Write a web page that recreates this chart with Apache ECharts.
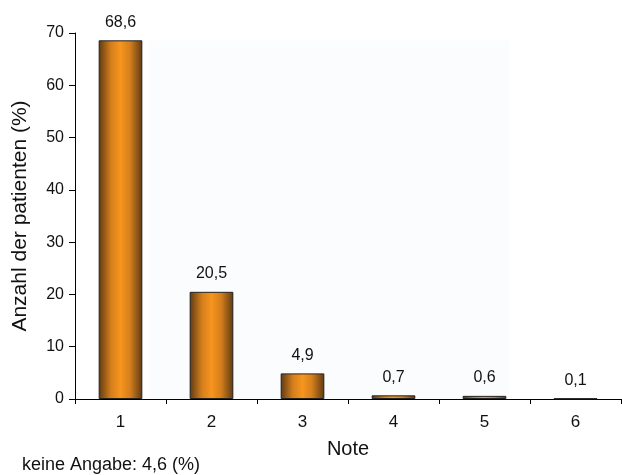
<!DOCTYPE html>
<html><head><meta charset="utf-8">
<script src="https://cdn.jsdelivr.net/npm/echarts@6/dist/echarts.min.js"></script>
<style>html,body{margin:0;padding:0;background:#fff}#c{width:622px;height:475px}</style>
</head><body><div id="c"></div>
<script>
const categories = ['1','2','3','4','5','6'];
const values = [68.6, 20.5, 4.9, 0.7, 0.6, 0.1];
const valueLabels = ['68,6','20,5','4,9','0,7','0,6','0,1'];
const yTicks = [0,10,20,30,40,50,60,70];
const footnote = 'keine Angabe: 4,6 (%)';

const FONT = 'Liberation Sans, Arial, sans-serif';
const chart = echarts.init(document.getElementById('c'));
const grad = new echarts.graphic.LinearGradient(0,0,1,0,[
  {offset:0,color:'#5e3a14'},
  {offset:0.28,color:'#d47e1c'},
  {offset:0.5,color:'#f7951e'},
  {offset:0.72,color:'#d47e1c'},
  {offset:1,color:'#5e3a14'}
]);
chart.setOption({
  animation:false,
  textStyle:{fontFamily:FONT},
  grid:{left:75,right:1,top:33,bottom:76,containLabel:false},
  xAxis:{
    type:'category', data:categories,
    name:'Note', nameLocation:'middle', nameGap:40,
    nameTextStyle:{fontSize:20,color:'#111'},
    axisLine:{lineStyle:{color:'#000',width:1}},
    axisTick:{show:true,alignWithLabel:false,length:5,lineStyle:{color:'#000'}},
    axisLabel:{fontSize:17,color:'#111',margin:15}
  },
  yAxis:{
    type:'value', min:0, max:70, interval:10,
    name:'Anzahl der patienten (%)', nameLocation:'middle', nameGap:44,
    nameTextStyle:{fontSize:21,color:'#111'},
    axisLine:{show:true,lineStyle:{color:'#000',width:1}},
    axisTick:{show:true,length:6,lineStyle:{color:'#000'}},
    axisLabel:{fontSize:16,color:'#111',margin:11,formatter:v=>yTicks.includes(v)?String(v):''},
    splitLine:{show:false}
  },
  series:[{
    type:'bar', data:values, barWidth:'48%',
    itemStyle:{color:grad,borderColor:'#222',borderWidth:1},
    label:{show:true,position:'top',distance:10,fontSize:16,color:'#111',
      formatter:p=>valueLabels[p.dataIndex]},
    markArea:{silent:true,itemStyle:{color:'#fbfcfe'},
      data:[[{xAxis:'1',yAxis:68.6,x:150},{xAxis:'5',yAxis:0,x:509}]]}
  }],
  graphic:[{type:'text',left:22,top:456,style:{text:footnote,fill:'#111',font:'18px Liberation Sans, Arial, sans-serif'}}]
});
</script></body></html>
